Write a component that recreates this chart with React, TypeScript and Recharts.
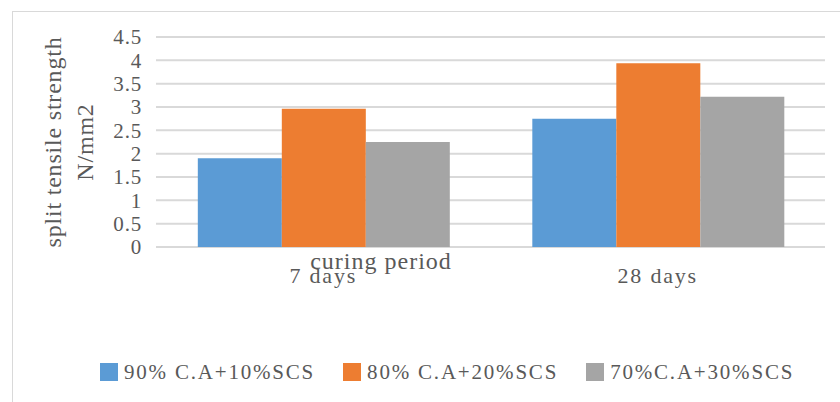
import { Bar, BarChart, CartesianGrid, Legend, XAxis, YAxis } from 'recharts';

const periods = ['7 days', '28 days'];
const mix90 = [1.9, 2.75];
const mix80 = [2.96, 3.94];
const mix70 = [2.25, 3.22];
const yTicks = [0, 0.5, 1, 1.5, 2, 2.5, 3, 3.5, 4, 4.5];
const seriesNames = ['90% C.A+10%SCS', '80% C.A+20%SCS', '70%C.A+30%SCS'];
const colors = ['#5b9bd5', '#ed7d31', '#a5a5a5'];

const data = periods.map((period, i) => ({
  period,
  mix90: mix90[i],
  mix80: mix80[i],
  mix70: mix70[i],
}));

const FONT = '"Liberation Serif", "Times New Roman", serif';
const TEXT = '#595959';

function YTitle(props: any) {
  const { viewBox } = props;
  const cy = viewBox.y + viewBox.height / 2;
  const x1 = viewBox.x + 61;
  const x2 = viewBox.x + 93;
  const common = {
    textAnchor: 'middle' as const,
    fill: TEXT,
    fontSize: 24,
    fontFamily: FONT,
    letterSpacing: 0.8,
  };
  return (
    <g>
      <text x={x1} y={cy} transform={`rotate(-90, ${x1}, ${cy})`} {...common}>
        split tensile strength
      </text>
      <text x={x2} y={cy} transform={`rotate(-90, ${x2}, ${cy})`} {...common}>
        N/mm2
      </text>
    </g>
  );
}

function XTitle(props: any) {
  const { viewBox } = props;
  return (
    <text
      x={viewBox.x + 225}
      y={viewBox.y + 22}
      textAnchor="middle"
      fill={TEXT}
      fontSize={24}
      fontFamily={FONT}
      letterSpacing={1}
    >
      curing period
    </text>
  );
}

function LegendBox() {
  return (
    <div
      style={{
        display: 'flex',
        alignItems: 'center',
        paddingLeft: 100,
        height: 24,
        fontFamily: FONT,
        fontSize: 21,
        color: TEXT,
        letterSpacing: 1.8,
      }}
    >
      {seriesNames.map((name, i) => (
        <div key={name} style={{ display: 'flex', alignItems: 'center', marginRight: 28 }}>
          <span style={{ width: 18, height: 18, background: colors[i], marginRight: 6 }} />
          <span>{name}</span>
        </div>
      ))}
    </div>
  );
}

export default function App() {
  return (
    <div style={{ position: 'absolute', left: 0, top: 0, width: 840, height: 402, background: '#fff' }}>
      <div
        style={{
          position: 'absolute',
          left: 12,
          top: 11,
          width: 840,
          height: 400,
          borderLeft: '1px solid #d9d9d9',
          borderTop: '1px solid #d9d9d9',
        }}
      />
      <BarChart
        width={840}
        height={402}
        data={data}
        margin={{ top: 37, right: 15, left: 0, bottom: 101 }}
        barCategoryGap="12.5%"
        barGap={0}
      >
        <CartesianGrid vertical={false} stroke="#d9d9d9" strokeWidth={2} />
        <XAxis
          dataKey="period"
          height={30}
          axisLine={false}
          tickLine={false}
          tickMargin={14}
          tick={{ fill: TEXT, fontSize: 22, fontFamily: FONT, letterSpacing: 1.8 }}
          label={{ content: XTitle }}
        />
        <YAxis
          width={156}
          domain={[0, 4.5]}
          ticks={yTicks}
          interval={0}
          axisLine={false}
          tickLine={false}
          tickMargin={8}
          tick={{ fill: TEXT, fontSize: 21, fontFamily: FONT, letterSpacing: 0.8 }}
          label={{ content: YTitle }}
        />
        <Legend
          verticalAlign="bottom"
          content={LegendBox}
          wrapperStyle={{ left: 0, top: 360, bottom: 'auto', width: 840 }}
        />
        <Bar dataKey="mix90" name={seriesNames[0]} fill={colors[0]} isAnimationActive={false} />
        <Bar dataKey="mix80" name={seriesNames[1]} fill={colors[1]} isAnimationActive={false} />
        <Bar dataKey="mix70" name={seriesNames[2]} fill={colors[2]} isAnimationActive={false} />
      </BarChart>
    </div>
  );
}
